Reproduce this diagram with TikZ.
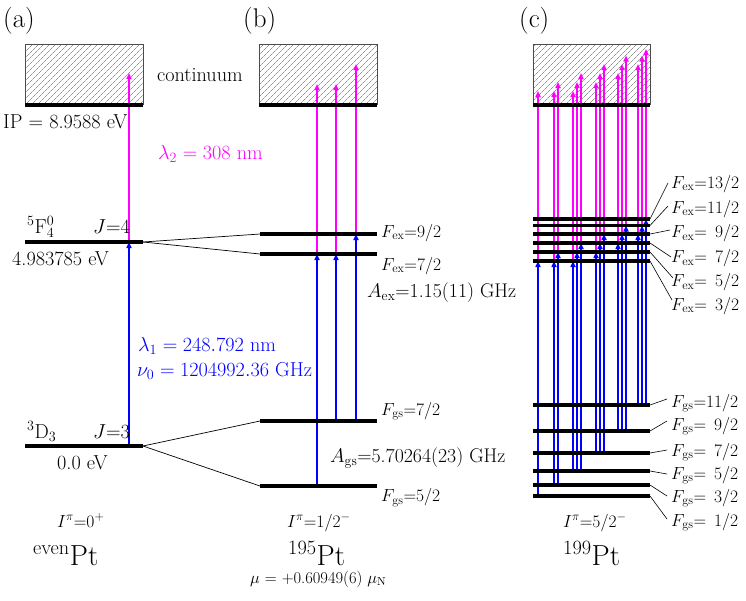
\documentclass[tikz,border=0pt]{standalone}
\usepackage{fix-cm}
\usetikzlibrary{patterns.meta,arrows.meta}
\definecolor{magc}{RGB}{255,0,255}
\definecolor{bluc}{RGB}{0,0,255}
\begin{document}
\begin{tikzpicture}[x=1pt,y=-1pt,
  lvl/.style={line width=3.5pt},
  conn/.style={line width=0.7pt},
  leader/.style={line width=0.6pt},
  exc/.style={draw=bluc, line width=1.5pt, -{Triangle[length=6pt,width=5pt]}},
  ion/.style={draw=magc, line width=1.5pt, -{Triangle[length=6pt,width=5pt]}},
  cont/.style={draw=black!70, line width=0.6pt, pattern={Lines[angle=45,distance=4pt,line width=0.45pt]}, pattern color=black!65},
  lab/.style={anchor=base west, inner sep=0pt, font=\fontsize{20.2}{22}\selectfont},
  flab/.style={anchor=base west, inner sep=0pt, font=\fontsize{17.5}{19}\selectfont},
  alab/.style={anchor=base west, inner sep=0pt, font=\fontsize{19.8}{21}\selectfont},
  ilab/.style={anchor=base west, inner sep=0pt, font=\fontsize{17.5}{19}\selectfont},
  mulab/.style={anchor=base west, inner sep=0pt, font=\fontsize{16.5}{18}\selectfont},
  ptlab/.style={anchor=base west, inner sep=0pt, font=\fontsize{29}{31}\selectfont},
  panlab/.style={anchor=base west, inner sep=0pt, font=\fontsize{27}{29}\selectfont}
]
\useasboundingbox (0,0) rectangle (746,600);

% ---------- continuum boxes ----------
\draw[cont] (25,44) rectangle (143,104);
\draw[cont] (259,44) rectangle (377,104);
\draw[cont] (533,44) rectangle (650,104);

% ---------- panel (a) ----------
\coordinate (aG) at (129,446);
\coordinate (aE) at (129,242);
\coordinate (aI) at (129,73);
\draw[exc] (aG) -- (aE);
\draw[ion] (aE) -- (aI);

% ---------- panel (b) ----------
\coordinate (bG1) at (317,486); \coordinate (bE1) at (317,254); \coordinate (bI1) at (317,84);
\coordinate (bG2) at (336,421); \coordinate (bE2) at (336,254); \coordinate (bI2) at (336,84);
\coordinate (bG3) at (356,421); \coordinate (bE3) at (356,234); \coordinate (bI3) at (356,64);
\foreach \i in {1,2,3}{
  \draw[exc] (bG\i) -- (bE\i);
  \draw[ion] (bE\i) -- (bI\i);
}

% ---------- panel (c) ----------
\foreach \xx/\gy/\ey [count=\k] in {538/496/261, 554/485/261, 558/485/252,
  573/471/261, 577/471/252, 581/471/243,
  596/453/252, 600/453/243, 604/453/234,
  618/431/243, 622/431/234, 626/431/225.5,
  638/405/234, 642/405/225.5, 646/405/219}{
  \coordinate (cG\k) at (\xx,\gy);
  \coordinate (cE\k) at (\xx,\ey);
  \coordinate (cI\k) at (\xx,\ey-170);
  \draw[exc] (cG\k) -- (cE\k);
  \draw[ion] (cE\k) -- (cI\k);
}

% ---------- levels ----------
\draw[line width=4pt] (25,105) -- (143,105);
\draw[line width=4pt] (259,105) -- (377,105);
\draw[line width=4pt] (533,105) -- (650,105);

\coordinate (aEl) at (25,242); \coordinate (aEr) at (143,242);
\coordinate (aGl) at (25,446); \coordinate (aGr) at (143,446);
\draw[lvl] (aEl) -- (aEr);
\draw[lvl] (aGl) -- (aGr);

\coordinate (bE9l) at (260,234); \coordinate (bE9r) at (377,234);
\coordinate (bE7l) at (260,254); \coordinate (bE7r) at (377,254);
\coordinate (bG7l) at (260,421); \coordinate (bG7r) at (377,421);
\coordinate (bG5l) at (260,486); \coordinate (bG5r) at (377,486);
\draw[lvl] (bE9l) -- (bE9r);
\draw[lvl] (bE7l) -- (bE7r);
\draw[lvl] (bG7l) -- (bG7r);
\draw[lvl] (bG5l) -- (bG5r);

\draw[conn] (aEr) -- (bE9l);
\draw[conn] (aEr) -- (bE7l);
\draw[conn] (aGr) -- (bG7l);
\draw[conn] (aGr) -- (bG5l);

% panel (c) levels with leaders and labels
\foreach \ly/\ty/\tx/\tyy/\txt [count=\k] in {
  219/183/668/188/{13/2}, 225.5/206/668/213/{11/2}, 234/230/670/237.5/{\phantom{1}9/2},
  243/257/671/262.5/{\phantom{1}7/2}, 252/278/673/286.5/{\phantom{1}5/2}, 261/300/672/310/{\phantom{1}3/2}}{
  \coordinate (cEl\k) at (533,\ly);
  \coordinate (cEr\k) at (650,\ly);
  \coordinate (cEt\k) at (\tx,\ty);
  \draw[lvl] (cEl\k) -- (cEr\k);
  \draw[leader] (cEr\k) -- (cEt\k);
  \node[flab] (cEn\k) at (671,\tyy) {$F_{\mathrm{ex}}$=\txt};
}
\foreach \ly/\ty/\tyy/\txt [count=\k] in {
  405/399/407/{11/2}, 431/421/430/{\phantom{1}9/2}, 453/450/456/{\phantom{1}7/2},
  471/474/479/{\phantom{1}5/2}, 485/496/502/{\phantom{1}3/2}, 496/519/526/{\phantom{1}1/2}}{
  \coordinate (cGl\k) at (533,\ly);
  \coordinate (cGr\k) at (650,\ly);
  \coordinate (cGt\k) at (667,\ty);
  \draw[lvl] (cGl\k) -- (cGr\k);
  \draw[leader] (cGr\k) -- (cGt\k);
  \node[flab] (cGn\k) at (671,\tyy) {$F_{\mathrm{gs}}$=\txt};
}

% ---------- labels ----------
\node[panlab] (pa) at (3,27) {(a)};
\node[panlab] (pb) at (243,27) {(b)};
\node[panlab] (pc) at (519,27) {(c)};

\node[lab] (contl) at (157,81) {continuum};
\node[lab] (ipl) at (3,128) {IP = 8.9588 eV};
\node[lab, text=magc] (l2) at (158,159) {$\lambda_2 = 308$ nm};
\node[lab] (f5) at (27,233) {$^5$F$_4^0$};
\node[lab] (j4) at (93,233) {$J$=4};
\node[lab] (e5) at (12,265) {4.983785 eV};
\node[lab, text=bluc] (l1) at (138,351.5) {$\lambda_1 = 248.792$ nm};
\node[lab, text=bluc] (nu) at (137,376.5) {$\nu_0 = 1204992.36$ GHz};
\node[lab] (d3) at (27,438) {$^3$D$_3$};
\node[lab] (j3) at (93,438) {$J$=3};
\node[lab] (e0) at (57,469) {0.0 eV};
\node[ilab] (ia) at (57,527) {$I^{\pi}$=0$^+$};
\node[ptlab] (pta) at (33,565) {$^{\mathrm{even}}$Pt};

\node[flab] (bfe9) at (381,237) {$F_{\mathrm{ex}}$=9/2};
\node[flab] (bfe7) at (381,270) {$F_{\mathrm{ex}}$=7/2};
\node[alab] (bae) at (367,297.5) {$A_{\mathrm{ex}}$=1.15(11) GHz};
\node[flab] (bfg7) at (381,415) {$F_{\mathrm{gs}}$=7/2};
\node[alab] (bag) at (330,462.5) {$A_{\mathrm{gs}}$=5.70264(23) GHz};
\node[flab] (bfg5) at (381,501.5) {$F_{\mathrm{gs}}$=5/2};
\node[ilab] (ib) at (287,527) {$I^{\pi}$=1/2$^-$};
\node[ptlab] (ptb) at (288,565) {$^{195}$Pt};
\node[mulab] (mu) at (250,583) {$\mu$ = +0.60949(6) $\mu_{\mathrm{N}}$};

\node[ilab] (ic) at (563,527) {$I^{\pi}$=5/2$^-$};
\node[ptlab] (ptc) at (563,565) {$^{199}$Pt};
\end{tikzpicture}
\end{document}
